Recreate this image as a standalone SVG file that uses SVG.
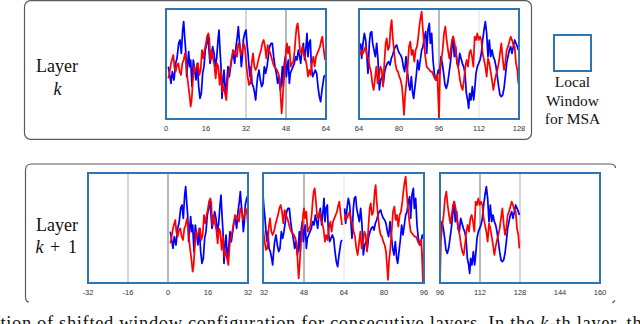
<svg xmlns="http://www.w3.org/2000/svg" xmlns:xlink="http://www.w3.org/1999/xlink" width="640" height="324" viewBox="0 0 640 324">
<style>
.panel{fill:none;stroke:#5a5a5a;stroke-width:1.2}
.win{fill:none;stroke:#2E75B6;stroke-width:2}
.sb{fill:none;stroke:#0000FF;stroke-width:5.2;stroke-linejoin:round}
.sr{fill:none;stroke:#FF0000;stroke-width:5.2;stroke-linejoin:round}
.gl{stroke:#c8c8c8;stroke-width:1.5}
.gd{stroke:#a0a0a0;stroke-width:1.5}
.gf{stroke:#ececec;stroke-width:1.5}
.tick{font-family:"Liberation Sans",Arial,sans-serif;font-size:7.5px;fill:#333;text-anchor:middle}
.lab{font-family:"Liberation Serif","Times New Roman",serif;font-size:18px;fill:#111}
.leg{font-family:"Liberation Serif","Times New Roman",serif;font-size:15.5px;fill:#111;text-anchor:middle}
.cap{font-family:"Liberation Serif","Times New Roman",serif;font-size:18.5px;fill:#111}
</style>
<defs>
<g id="sigA" transform="scale(0.33333)">
<polyline class="sb" points="505,200 510,230 513,250 517,215 522,240 527,190 531,175 536,130 540,120 544,160 548,90 551,65 554,110 557,150 560,230 563,190 566,155 569,200 572,180 576,260 580,180 584,210 588,240 592,190 596,260 600,295 604,280 608,220 612,200 616,150 620,130 624,110 627,150 630,190 634,170 638,140 642,160 646,200 650,175 654,120 657,90 660,150 663,200 666,295 669,240 672,210 676,280 680,250 684,200 688,230 692,200 696,170 700,160 704,190 708,140 712,110 715,80 718,120 721,150 724,200 727,170 730,120 734,100 738,90 741,130 744,160 747,200 750,230 753,200 756,250 760,260 764,280 767,300 770,260 773,230 777,210 781,240 785,260 789,250 793,200 797,220 801,200 805,170 809,140 813,130 817,130 821,170 825,200 829,220 833,250 837,230 841,270 844,250 847,200 850,260 853,190 856,170 859,230 862,200 865,180 868,250 871,220 875,210 879,200 883,190 887,170 891,180 895,150 899,170 902,190 906,150 910,130 914,180 918,140 921,100 924,170 927,130 931,120 934,200 938,230 942,220 946,210 950,220 954,260 958,290 962,305 966,270 969,250 972,230 975,225"/>
<polyline class="sr" points="505,235 509,215 513,190 517,175 520,165 523,200 527,215 531,195 535,190 539,215 543,225 547,190 551,180 555,160 559,195 563,240 566,265 569,290 572,320 575,300 578,250 582,200 586,215 590,200 594,190 598,225 602,210 606,150 610,175 614,150 618,130 621,110 625,100 628,115 631,180 635,150 639,175 643,195 647,235 651,190 655,200 659,255 663,215 667,275 671,260 675,280 679,300 683,240 687,215 691,200 695,175 699,150 703,155 707,160 711,170 715,130 719,140 723,165 727,150 731,130 735,145 739,195 743,230 747,255 751,250 755,190 759,160 763,200 767,210 771,200 775,180 779,165 783,150 787,130 791,120 795,140 799,175 803,135 807,150 811,160 815,175 819,190 823,200 827,205 831,210 835,220 839,235 842,290 845,340 848,300 851,240 855,200 858,150 861,130 864,160 868,140 872,200 876,190 880,185 884,150 887,110 890,80 893,70 896,100 900,150 904,160 908,140 912,165 916,175 920,195 924,230 928,210 932,225 936,190 940,170 944,200 948,170 952,160 956,150 960,140 964,120 967,110 970,140 975,180"/>
</g>
<g id="sigB" transform="translate(330,0) scale(0.33333)">
<polyline class="sb" points="92,130 95,175 99,130 103,100 107,120 110,160 114,220 118,130 121,100 125,95 128,130 132,150 136,170 140,130 144,180 148,270 152,240 156,230 160,250 164,215 168,200 172,190 176,185 180,195 184,175 188,165 192,150 196,140 200,135 204,150 208,160 212,165 216,175 220,200 224,215 228,170 232,210 236,250 240,270 244,230 248,280 251,295 255,260 259,225 263,180 267,210 271,180 275,150 279,140 283,110 287,95 290,160 294,90 298,70 301,130 305,100 309,180 313,220 317,240 321,230 325,210 329,220 333,170 337,190 341,220 345,255 349,265 353,250 357,220 361,190 365,150 369,110 373,170 377,140 381,190 385,200 389,160 393,175 397,190 401,200 405,220 409,280 413,300 416,325 419,280 423,300 427,260 431,300 434,270 438,220 442,200 446,190 450,180 454,160 458,120 462,90 466,65 470,100 474,170 478,120 482,170 486,150 490,170 494,180 498,200 502,230 506,260 510,285 514,290 518,285 522,265 526,230 530,190 534,170 538,150 542,140 546,160 550,140 554,120 558,130 562,140 565,150"/>
<polyline class="sr" points="92,165 95,150 99,160 103,150 107,140 111,170 115,175 119,200 123,215 127,250 131,270 135,235 139,200 143,250 147,230 151,200 155,210 159,260 163,190 167,130 170,115 174,150 178,140 182,80 185,60 188,110 192,150 196,190 200,210 204,215 208,230 212,240 216,260 219,300 222,345 225,290 229,250 233,200 237,140 241,125 245,165 249,150 253,185 257,150 261,140 265,110 268,80 272,50 275,35 278,80 282,130 286,170 290,200 294,205 298,210 302,215 306,215 310,225 314,235 318,240 322,225 325,300 327,355 330,220 334,180 338,150 342,100 346,80 350,120 354,150 358,175 362,150 366,120 370,110 374,130 378,160 382,190 386,210 390,240 394,260 398,270 402,240 406,200 410,180 414,200 418,160 422,150 426,170 430,200 434,110 438,120 442,100 446,120 450,110 454,120 458,160 462,180 466,200 470,230 474,175 478,190 482,215 486,240 490,270 494,245 498,225 502,210 506,190 510,160 514,130 518,175 522,210 526,190 530,150 534,140 538,125 542,110 546,120 550,135 554,140 558,190 562,210 565,250"/>
</g>
<clipPath id="cb1"><rect x="168" y="170" width="80" height="116"/></clipPath>
<clipPath id="cb2a"><rect x="263" y="170" width="80" height="116"/></clipPath>
<clipPath id="cb2b"><rect x="343" y="170" width="81" height="116"/></clipPath>
<clipPath id="cb3"><rect x="440" y="170" width="80" height="116"/></clipPath>
</defs>
<rect width="640" height="324" fill="#fff"/>

<g id="layer-k">
<rect class="panel" x="24.5" y="0.7" width="507" height="138.6" rx="6"/>
<text class="lab" x="36" y="72">Layer</text>
<text class="lab" x="53.5" y="94.5" font-style="italic">k</text>
</g>

<g id="window-k-1">
<line class="gl" x1="246" y1="9" x2="246" y2="119"/>
<line class="gd" x1="286" y1="9" x2="286" y2="119"/>
<use xlink:href="#sigA"/>
<rect class="win" x="166" y="9" width="160" height="110"/>
<text class="tick" x="166" y="130.5">0</text>
<text class="tick" x="206" y="130.5">16</text>
<text class="tick" x="246" y="130.5">32</text>
<text class="tick" x="286" y="130.5">48</text>
<text class="tick" x="326" y="130.5">64</text>
</g>

<g id="window-k-2">
<line class="gd" x1="439" y1="9" x2="439" y2="119"/>
<line class="gf" x1="479" y1="9" x2="479" y2="119"/>
<use xlink:href="#sigB"/>
<rect class="win" x="359" y="9" width="160" height="110"/>
<text class="tick" x="359" y="130.5">64</text>
<text class="tick" x="399" y="130.5">80</text>
<text class="tick" x="439" y="130.5">96</text>
<text class="tick" x="479" y="130.5">112</text>
<text class="tick" x="519" y="130.5">128</text>
</g>

<g id="legend">
<rect class="win" x="554" y="35" width="37" height="36"/>
<text class="leg" x="572.5" y="87">Local</text>
<text class="leg" x="572.5" y="105.5">Window</text>
<text class="leg" x="572.5" y="124">for MSA</text>
</g>

<g id="layer-k1">
<path class="panel" d="M29,302 Q25.5,302 25.5,297 L25.5,170 Q25.5,164 31.5,164 L610,164 Q615.5,164 615.5,168 M612.5,303 L615,300.5"/>
<text class="lab" x="36" y="231">Layer</text>
<text class="lab" y="252.5"><tspan x="35.5" font-style="italic">k</tspan><tspan x="50">+</tspan><tspan x="68">1</tspan></text>
</g>

<g id="window-k1-1">
<line class="gl" x1="128" y1="173" x2="128" y2="283"/>
<line class="gd" x1="168" y1="173" x2="168" y2="283"/>
<g clip-path="url(#cb1)"><use xlink:href="#sigA" transform="translate(2,165)"/></g>
<rect class="win" x="88" y="173" width="160" height="110"/>
<text class="tick" x="88" y="294.5">-32</text>
<text class="tick" x="128" y="294.5">-16</text>
<text class="tick" x="168" y="294.5">0</text>
<text class="tick" x="208" y="294.5">16</text>
<text class="tick" x="248" y="294.5">32</text>
</g>

<g id="window-k1-2">
<line class="gd" x1="304" y1="173" x2="304" y2="283"/>
<line class="gf" x1="344" y1="173" x2="344" y2="283"/>
<g clip-path="url(#cb2a)"><use xlink:href="#sigA" transform="translate(17,165)"/></g>
<g clip-path="url(#cb2b)"><use xlink:href="#sigB" transform="translate(-16,165)"/></g>
<rect class="win" x="263" y="173" width="161" height="110"/>
<text class="tick" x="264" y="294.5">32</text>
<text class="tick" x="304" y="294.5">48</text>
<text class="tick" x="344" y="294.5">64</text>
<text class="tick" x="384" y="294.5">80</text>
<text class="tick" x="424" y="294.5">96</text>
</g>

<g id="window-k1-3">
<line class="gd" x1="480" y1="173" x2="480" y2="283"/>
<line class="gl" x1="520" y1="173" x2="520" y2="283"/>
<g clip-path="url(#cb3)"><use xlink:href="#sigB" transform="translate(1,165)"/></g>
<rect class="win" x="440" y="173" width="160" height="110"/>
<text class="tick" x="440" y="294.5">96</text>
<text class="tick" x="480" y="294.5">112</text>
<text class="tick" x="520" y="294.5">128</text>
<text class="tick" x="560" y="294.5">144</text>
<text class="tick" x="600" y="294.5">160</text>
</g>

<g id="connectors"></g>

<text class="cap" x="0.5" y="329" textLength="650" lengthAdjust="spacing">tion of shifted window configuration for consecutive layers. In the <tspan font-style="italic">k</tspan>-th layer, the</text>
</svg>
